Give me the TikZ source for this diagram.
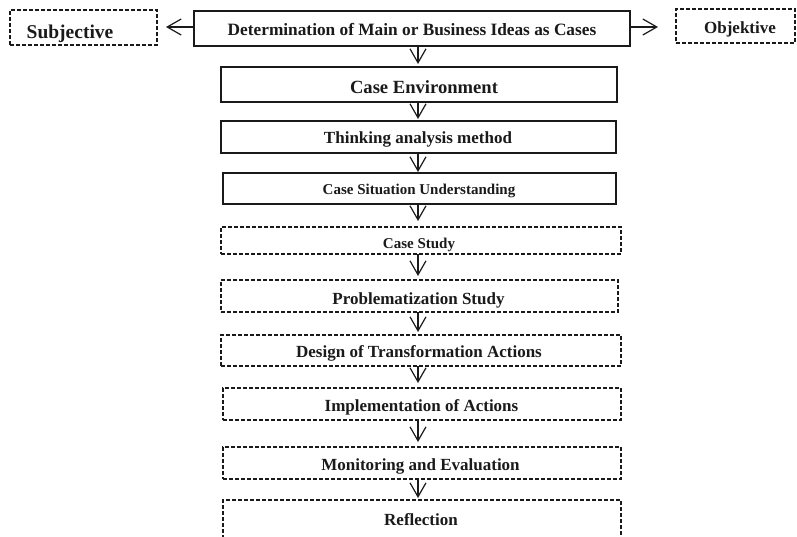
\documentclass[tikz,border=0pt]{standalone}
\usepackage{fontspec}
\setmainfont{Liberation Serif}
\usetikzlibrary{arrows.meta}
\definecolor{ink}{HTML}{1A1A1A}
\tikzset{
  solidbox/.style={draw=ink, line width=1.2pt, inner sep=0pt, outer sep=0pt},
  thickbox/.style={draw=ink, line width=1.8pt, inner sep=0pt, outer sep=0pt},
  dashbox/.style={draw=ink, line width=1.1pt, dash pattern=on 4pt off 2pt, inner sep=0pt, outer sep=0pt},
  lbl/.style={anchor=base, inner sep=0pt, text=ink, font=\bfseries\fontsize{17}{19}\selectfont},
  flow/.style={draw=ink, line width=1.2pt, -{Straight Barb[length=14pt,width=16pt,line width=1.2pt]}},
}
\begin{document}
\begin{tikzpicture}[x=1pt, y=-1pt]
\useasboundingbox (0,0) rectangle (797,536);
\clip (0,0) rectangle (797,536);
\fill[white] (0,0) rectangle (797,536);

% top row
\node[dashbox, minimum width=147pt, minimum height=35pt] (subj) at (83.5,27.5) {};
\node[lbl, font=\bfseries\fontsize{19.5}{21}\selectfont] (subjT) at (70,38) {Subjective};
\node[solidbox, minimum width=436pt, minimum height=35pt] (det) at (412,28.5) {};
\node[lbl, font=\bfseries\fontsize{17.3}{19}\selectfont] (detT) at (412,35.5) {Determination of Main or Business Ideas as Cases};
\node[dashbox, minimum width=119pt, minimum height=34pt] (obj) at (735.5,26) {};
\node[lbl] (objT) at (740,33) {Objektive};

% main column
\node[thickbox, minimum width=396pt, minimum height=35pt] (cenv) at (419,84.5) {};
\node[lbl, font=\bfseries\fontsize{18.6}{20}\selectfont] (cenvT) at (424,93) {Case Environment};
\node[solidbox, minimum width=395pt, minimum height=32pt] (think) at (418.5,137) {};
\node[lbl] (thinkT) at (418,143) {Thinking analysis method};
\node[solidbox, minimum width=393pt, minimum height=31pt] (csu) at (419.5,188.5) {};
\node[lbl, font=\bfseries\fontsize{15}{17}\selectfont] (csuT) at (419,194) {Case Situation Understanding};
\node[dashbox, minimum width=400pt, minimum height=27pt] (cst) at (421,240.5) {};
\node[lbl, font=\bfseries\fontsize{15}{17}\selectfont] (cstT) at (419,248) {Case Study};
\node[dashbox, minimum width=397pt, minimum height=32pt] (prob) at (419.5,296) {};
\node[lbl] (probT) at (418.5,304) {Problematization Study};
\node[dashbox, minimum width=400pt, minimum height=31pt] (des) at (421,350.5) {};
\node[lbl] (desT) at (419,357.5) {Design of Transformation Actions};
\node[dashbox, minimum width=398pt, minimum height=32pt] (impl) at (422,404) {};
\node[lbl] (implT) at (421.5,411) {Implementation of Actions};
\node[dashbox, minimum width=398pt, minimum height=32pt] (mon) at (422,463) {};
\node[lbl] (monT) at (420.5,470) {Monitoring and Evaluation};
\node[dashbox, minimum width=398pt, minimum height=45pt] (refl) at (422,522.5) {};
\node[lbl] (reflT) at (421,525.5) {Reflection};

% connectors
\coordinate (ax) at (418,0);
\coordinate (ay) at (0,27);
\draw[flow, shorten >=9pt] (det.west |- ay) -- (subj.east |- ay);
\draw[flow, shorten >=18pt] (det.east |- ay) -- (obj.west |- ay);
\draw[flow, shorten >=3pt] (det.south -| ax) -- (cenv.north -| ax);
\draw[flow, shorten >=2pt] (cenv.south -| ax) -- (think.north -| ax);
\draw[flow, shorten >=1pt] (think.south -| ax) -- (csu.north -| ax);
\draw[flow, shorten >=6pt] (csu.south -| ax) -- (cst.north -| ax);
\draw[flow, shorten >=4pt] (cst.south -| ax) -- (prob.north -| ax);
\draw[flow, shorten >=3pt] (prob.south -| ax) -- (des.north -| ax);
\draw[flow, shorten >=5pt] (des.south -| ax) -- (impl.north -| ax);
\draw[flow, shorten >=5pt] (impl.south -| ax) -- (mon.north -| ax);
\draw[flow, shorten >=2pt] (mon.south -| ax) -- (refl.north -| ax);
\end{tikzpicture}
\end{document}
